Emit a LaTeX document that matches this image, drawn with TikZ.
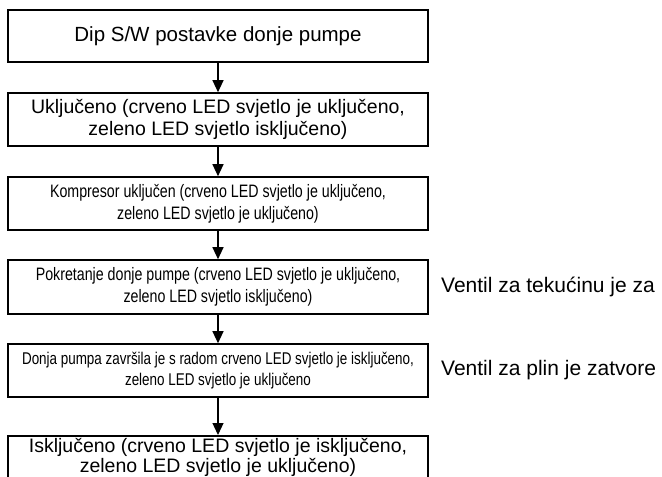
\documentclass[tikz,border=0pt]{standalone}
\usepackage{fontspec}
\setmainfont{Liberation Sans}
\newfontfamily\narrowfont[FakeStretch=0.79]{Liberation Sans}
\usetikzlibrary{arrows.meta,positioning}

\begin{document}
\begin{tikzpicture}[x=1pt, y=-1pt,
  stepbox/.style={draw, line width=1.6pt, minimum width=420pt, minimum height=53pt,
    inner sep=0pt, align=center, font=\fontsize{19.5}{22}\selectfont},
  narrowbox/.style={stepbox, font=\narrowfont\fontsize{18}{22}\selectfont},
  flow/.style={line width=1.2pt, -{Triangle[length=12pt,width=11pt]}},
  sidenote/.style={anchor=west, inner sep=0pt, font=\fontsize{21}{24}\selectfont}]

\useasboundingbox (0,0) rectangle (662,477);
\clip (0,0) rectangle (662,477);

% === Flow boxes ===
\node[stepbox, minimum height=52pt, font=\fontsize{20.5}{24}\selectfont] (postavke) at (218,36)
  {Dip S/W postavke donje pumpe};
\node[stepbox] (ukljuceno) at (218,119.5)
  {Uključeno (crveno LED svjetlo je uključeno,\\zeleno LED svjetlo isključeno)};
\node[narrowbox] (kompresor) at (218,203.5)
  {Kompresor uključen (crveno LED svjetlo je uključeno,\\zeleno LED svjetlo je uključeno)};
\node[narrowbox, minimum height=54pt] (pokretanje) at (218,287)
  {Pokretanje donje pumpe (crveno LED svjetlo je uključeno,\\zeleno LED svjetlo isključeno)};
\node[narrowbox, font=\narrowfont\fontsize{17}{21}\selectfont] (zavrsila) at (218,370.5)
  {Donja pumpa završila je s radom crveno LED svjetlo je isključeno,\\zeleno LED svjetlo je uključeno};
% last box runs past the lower edge
\node[stepbox, anchor=north, minimum height=0pt, inner ysep=2pt,
  font=\fontsize{19.5}{20}\selectfont] (iskljuceno) at (218,435)
  {Isključeno (crveno LED svjetlo je isključeno,\\zeleno LED svjetlo je uključeno)};

% === Arrows ===
\draw[flow] (postavke) -- (ukljuceno);
\draw[flow] (ukljuceno) -- (kompresor);
\draw[flow] (kompresor) -- (pokretanje);
\draw[flow] (pokretanje) -- (zavrsila);
\draw[flow] (zavrsila) -- (iskljuceno);

% === Valve notes ===
\node[sidenote] (tekucina) at (441,287) {Ventil za tekućinu je za};
\node[sidenote] (plin) at (441,370.5) {Ventil za plin je zatvore};

\end{tikzpicture}
\end{document}
